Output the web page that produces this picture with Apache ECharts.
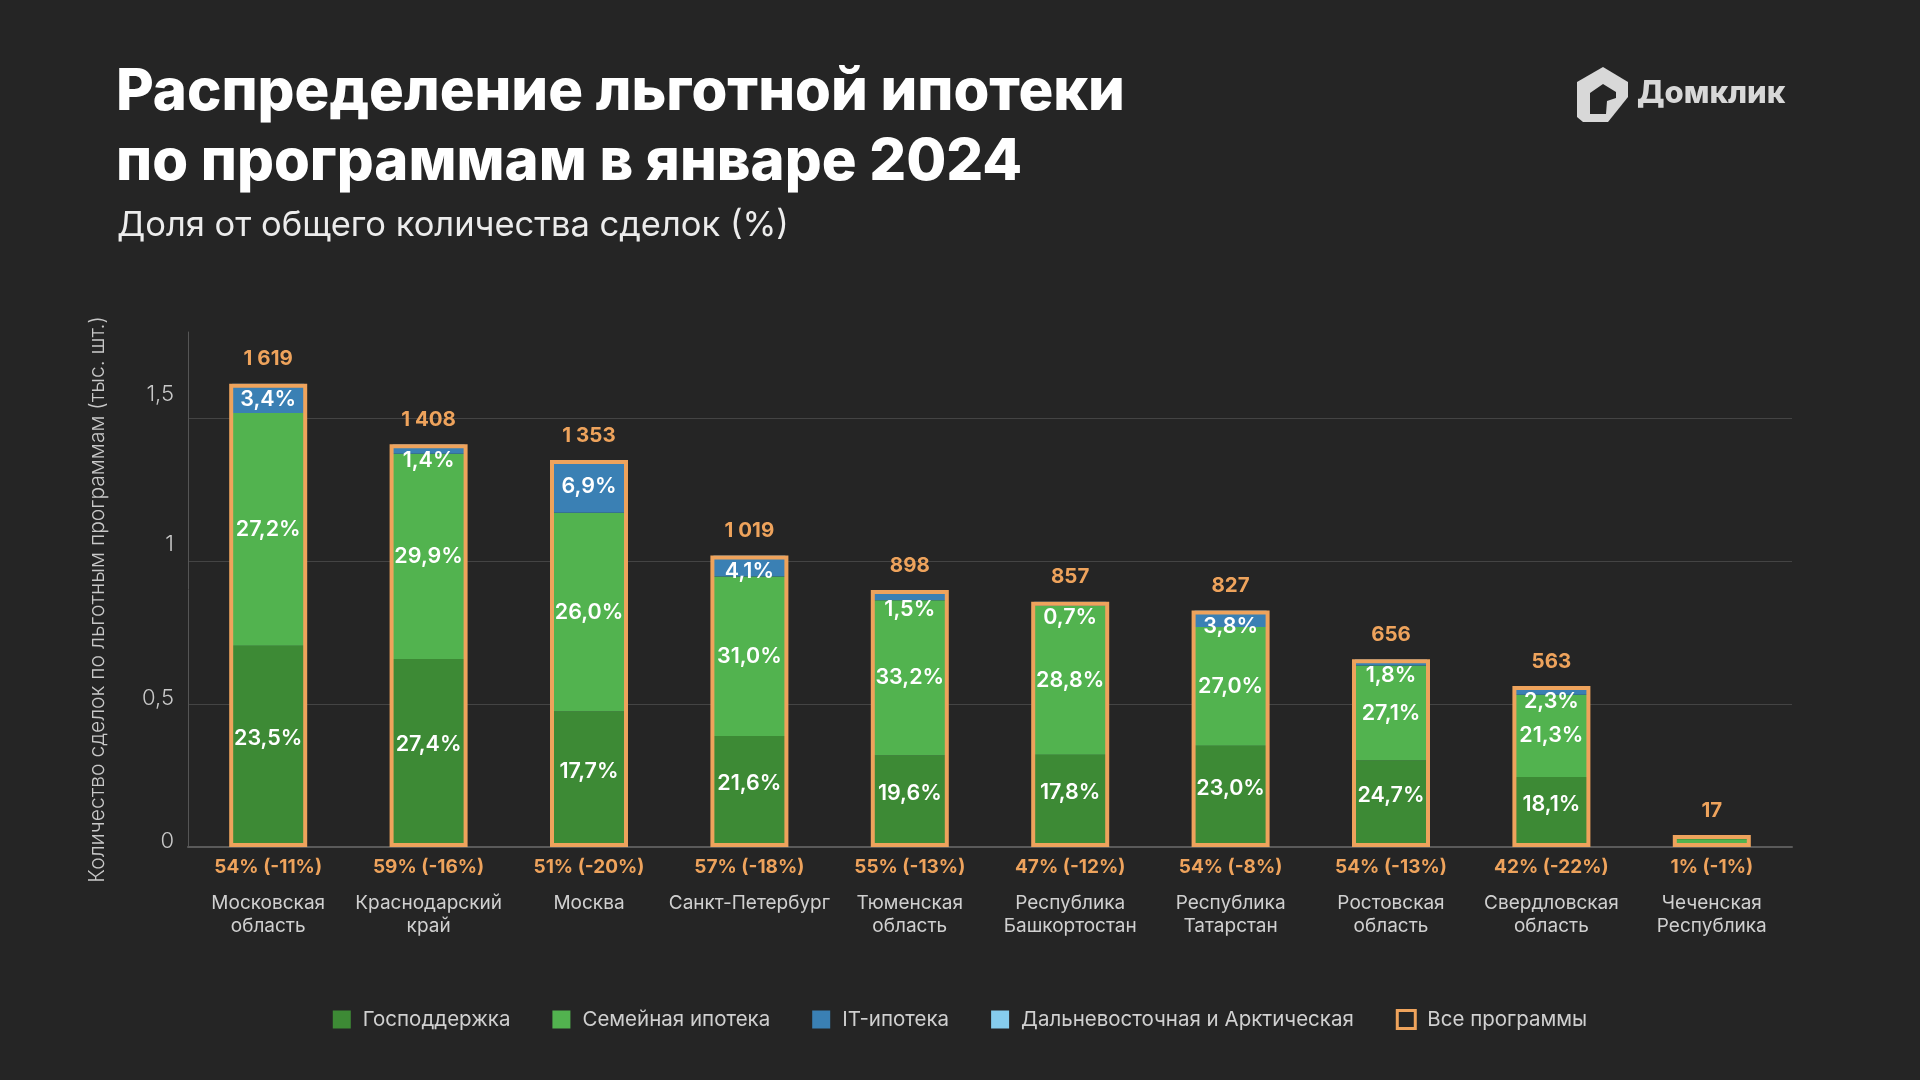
<!DOCTYPE html>
<html><head><meta charset="utf-8">
<script src="https://cdn.jsdelivr.net/npm/echarts@6/dist/echarts.min.js"></script>
<style>html,body{margin:0;padding:0;background:#252525}#c{width:1920px;height:1080px}</style>
</head><body><div id="c"></div>
<script>
// ---- data ----
const categories = ['Московская\nобласть', 'Краснодарский\nкрай', 'Москва', 'Санкт-Петербург', 'Тюменская\nобласть',
  'Республика\nБашкортостан', 'Республика\nТатарстан', 'Ростовская\nобласть', 'Свердловская\nобласть', 'Чеченская\nРеспублика'];
const totals = [1.619, 1.408, 1.353, 1.019, 0.898, 0.857, 0.827, 0.656, 0.563, 0.017]; // тыс. сделок
const shareGov = [23.5, 27.4, 17.7, 21.6, 19.6, 17.8, 23.0, 24.7, 18.1, 0.5];
const shareFamily = [27.2, 29.9, 26.0, 31.0, 33.2, 28.8, 27.0, 27.1, 21.3, 0.5];
const shareIT = [3.4, 1.4, 6.9, 4.1, 1.5, 0.7, 3.8, 1.8, 2.3, 0];
const shareFarEast = [0, 0, 0, 0, 0.7, 0, 0, 0, 0, 0];
const shareTotal = [54, 59, 51, 57, 55, 47, 54, 54, 42, 1];
const shareChange = [-11, -16, -20, -18, -13, -12, -8, -13, -22, -1];
const yTickLabels = {0: '0', 0.5: '0,5', 1: '1', 1.5: '1,5'};
const seriesNames = ['Господдержка', 'Семейная ипотека', 'IT-ипотека', 'Дальневосточная и Арктическая', 'Все программы'];

// ---- style ----
const FONT = 'Inter, "Noto Sans", sans-serif';
const C = {gov: '#3d8a35', fam: '#52b34f', it: '#3a80b4', fe: '#86cdee', all: '#eea35c', bg: '#252525', text: '#d0d0d0'};
const yLabelStyle = {0: 'y0', 0.5: 'y05', 1: 'y1', 1.5: 'y15'};

function segValue(shares, i) {
  const sum = shareGov[i] + shareFamily[i] + shareIT[i] + shareFarEast[i];
  return totals[i] * shares[i] / sum;
}
const fmtPct = v => v.toFixed(1).replace('.', ',') + '%';
const fmtTotal = v => String(Math.round(v * 1000)).replace(/\B(?=(\d{3})+(?!\d))/g, ' ');

function segData(shares, labelFn) {
  return shares.map((s, i) => ({value: segValue(shares, i), label: labelFn(s, i)}));
}

const labelBase = {color: '#ffffff', fontSize: 21.5, fontWeight: 600, fontFamily: FONT};
const yRichBase = {color: '#c8c8c8', fontSize: 22, fontWeight: 300, fontFamily: FONT};

const chart = echarts.init(document.getElementById('c'));
chart.setOption({
  backgroundColor: C.bg,
  animation: false,
  title: [
    {text: 'Распределение льготной ипотеки\nпо программам в январе 2024', left: 111, top: 53,
      textStyle: {color: '#ffffff', fontSize: 58, fontWeight: 800, lineHeight: 70, fontFamily: FONT}},
    {text: 'Доля от общего количества сделок (%)', left: 112, top: 203,
      textStyle: {color: '#ececec', fontSize: 34.5, fontWeight: 400, fontFamily: FONT}}
  ],
  graphic: [
    {type: 'polygon', shape: {points: [[1603, 67], [1628, 82], [1628, 97], [1608, 122], [1583, 122], [1577, 117], [1577, 82]]},
      style: {fill: '#d8d8d8'}},
    {type: 'polygon', shape: {points: [[1603, 84], [1590, 93], [1590, 114], [1606, 114], [1607, 101], [1616, 98], [1616, 92]]},
      style: {fill: C.bg}},
    {type: 'text', left: 1637, top: 78,
      style: {text: 'Домклик', fill: '#d8d8d8', fontSize: 31, fontWeight: 800, fontFamily: FONT}}
  ],
  legend: {
    left: 'center', top: 1004, itemWidth: 18, itemHeight: 18, itemGap: 42,
    textStyle: {color: C.text, fontSize: 20.5, fontFamily: FONT, padding: [0, 0, 0, 7]},
    data: [
      {name: seriesNames[0], icon: 'rect'},
      {name: seriesNames[1], icon: 'rect'},
      {name: seriesNames[2], icon: 'rect'},
      {name: seriesNames[3], icon: 'rect'},
      {name: seriesNames[4], icon: 'rect', itemStyle: {color: C.bg, borderColor: C.all, borderWidth: 3}}
    ]
  },
  grid: {left: 188, right: 128, top: 332, bottom: 233, containLabel: false},
  xAxis: [
    {type: 'category', data: categories, gridIndex: 0,
      axisLine: {show: true, lineStyle: {color: '#5a5a5a', width: 2}},
      axisTick: {show: false},
      axisLabel: {
        interval: 0, margin: 8, fontFamily: FONT,
        formatter: (value, index) => `{a|${shareTotal[index]}% (${shareChange[index]}%)}\n{s| }\n` +
          value.split('\n').map(l => `{b|${l}}`).join('\n'),
        rich: {
          a: {color: C.all, fontSize: 19, fontWeight: 700, lineHeight: 24, fontFamily: FONT},
          s: {fontSize: 4, lineHeight: 13},
          b: {color: C.text, fontSize: 19, fontWeight: 400, lineHeight: 23, fontFamily: FONT}
        }
      }},
    {type: 'category', data: categories, gridIndex: 0, show: false}
  ],
  yAxis: {
    type: 'value', min: 0, max: 1.8, interval: 0.5,
    axisLine: {show: true, lineStyle: {color: '#555555', width: 1}},
    axisTick: {show: false},
    axisLabel: {margin: 14, showMaxLabel: false,
      formatter: v => (yTickLabels[v] !== undefined ? `{${yLabelStyle[v]}|${yTickLabels[v]}}` : ''),
      rich: {
        y0: Object.assign({padding: [0, 0, 12, 0]}, yRichBase),
        y05: Object.assign({padding: [0, 0, 12, 0]}, yRichBase),
        y1: Object.assign({padding: [0, 0, 32, 0]}, yRichBase),
        y15: Object.assign({padding: [0, 0, 46, 0]}, yRichBase)
      }},
    splitLine: {show: true, showMaxLine: false, showMinLine: false, lineStyle: {color: '#444444', width: 1}},
    name: 'Количество сделок по льготным программам (тыс. шт.)',
    nameLocation: 'middle', nameRotate: 90, nameGap: 80,
    nameTextStyle: {color: '#c8c8c8', fontSize: 21, fontWeight: 300, fontFamily: FONT, padding: [0, 20, 0, 0]}
  },
  series: [
    {name: seriesNames[0], type: 'bar', stack: 's', xAxisIndex: 0, barWidth: 72, barMinHeight: 9,
      itemStyle: {color: C.gov},
      label: Object.assign({show: true, position: 'inside', offset: [0, -8]}, labelBase),
      data: segData(shareGov, (s, i) => ({show: s >= 5, formatter: fmtPct(s)}))},
    {name: seriesNames[1], type: 'bar', stack: 's', xAxisIndex: 0, barWidth: 72, barMinHeight: 5,
      itemStyle: {color: C.fam},
      label: Object.assign({show: true, position: 'inside'}, labelBase),
      data: segData(shareFamily, (s, i) => ({show: s >= 5, formatter: fmtPct(s)}))},
    {name: seriesNames[2], type: 'bar', stack: 's', xAxisIndex: 0, barWidth: 72,
      itemStyle: {color: C.it},
      label: Object.assign({show: true}, labelBase),
      data: segData(shareIT, (s, i) => ({show: s > 0, formatter: fmtPct(s),
        position: s >= 5 ? 'inside' : 'insideTop', distance: 5}))},
    {name: seriesNames[3], type: 'bar', stack: 's', xAxisIndex: 0, barWidth: 72,
      itemStyle: {color: C.fe},
      label: {show: false},
      data: shareFarEast.map((s, i) => segValue(shareFarEast, i))},
    {name: seriesNames[4], type: 'bar', xAxisIndex: 1, barWidth: 78, barMinHeight: 12, z: 5,
      itemStyle: {color: 'rgba(0,0,0,0)', borderColor: C.all, borderWidth: 4},
      label: {show: true, position: 'top', distance: 14, color: C.all, fontSize: 20.5, fontWeight: 700, fontFamily: FONT,
        formatter: p => fmtTotal(p.value)},
      data: totals}
  ]
});
</script>
</body></html>
